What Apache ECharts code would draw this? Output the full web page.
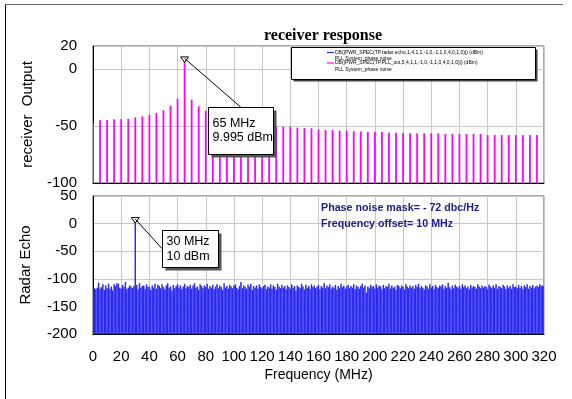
<!DOCTYPE html>
<html><head><meta charset="utf-8">
<script src="https://cdn.jsdelivr.net/npm/echarts@6/dist/echarts.min.js"></script>
<style>html,body{margin:0;padding:0;background:#fff}#c{width:572px;height:399px}</style>
</head><body><div id="c"></div><script>
// ---- data ----
const titleText = 'receiver response';
const topAxisName = 'receiver  Output';
const bottomAxisName = 'Radar Echo';
const xAxisName = 'Frequency (MHz)';
const xTicks = [0, 320, 20];          // min, max, step
const topYTicks = [-100, 20, 50];     // min, max, step (labels -100,-50,0,20)
const bottomYTicks = [-200, 50, 50];  // min, max, step

const pllName = 'DB(|PWR_SPEC(TP.PLL_out,5,4,1,1,-1,0,-1,1,0,4,0,1,0)|) (dBm)';
const echoName = 'DB(|PWR_SPEC(TP.radar echo,1,4,1,1,-1,0,-1,1,0,4,0,1,0)|) (dBm)';
const legendSub = 'PLL System_phase noise';

const pllFreq = [0,5,10,15,20,25,30,35,40,45,50,55,60,65,70,75,80,85,90,95,100,105,110,115,120,125,130,135,140,145,150,155,160,165,170,175,180,185,190,195,200,205,210,215,220,225,230,235,240,245,250,255,260,265,270,275,280,285,290,295,300,305,310,315];
const pllValues = [-47.7,-44.8,-44.8,-44.2,-44,-43.7,-42.5,-41.6,-40.4,-38.7,-36.3,-32.3,-26.4,9.995,-27,-32.8,-36.7,-39.5,-42,-44,-45.5,-46.5,-47.5,-48.5,-49,-49.5,-50.3,-50.7,-50.8,-51.5,-51.8,-52,-53,-53.6,-53.6,-54.2,-54.2,-54.8,-54.8,-55.3,-55.3,-55.3,-55.9,-55.9,-56.2,-56.5,-56.5,-56.5,-56.5,-56.5,-57.1,-57.1,-57.1,-57.1,-57.1,-57.1,-58,-58,-58,-58,-58,-58,-58,-58];

const echoStartMHz = 0, echoStepMHz = 1;
const echoValues = [
-118,-117,-119,-116,-107,-118,-115,-110,-120,-112,-117,-109,-118,-114,-121,-110,-113,-108,-109,-116,
-118,-111,-115,-106,-119,-116,-112,-114,-117,-113,10,-111,-119,-108,-116,-113,-112,-118,-110,-115,
-114,-120,-112,-116,-109,-118,-111,-113,-117,-110,-115,-119,-112,-108,-116,-114,-121,-111,-117,-113,
-110,-116,-112,-119,-114,-109,-117,-113,-115,-111,-118,-112,-108,-116,-114,-120,-110,-113,-117,-112,
-115,-109,-118,-113,-116,-111,-119,-114,-110,-117,-112,-115,-120,-108,-116,-113,-118,-111,-114,-117,
-112,-110,-116,-119,-113,-106,-117,-112,-115,-118,-111,-114,-109,-120,-113,-116,-112,-118,-110,-115,
-117,-113,-111,-119,-114,-116,-110,-118,-112,-115,-120,-109,-114,-117,-111,-116,-113,-119,-112,-115,
-118,-110,-116,-113,-121,-112,-115,-117,-109,-114,-119,-111,-116,-113,-118,-110,-115,-112,-117,-114,
-111,-119,-113,-116,-108,-117,-112,-115,-110,-118,-114,-116,-111,-120,-113,-117,-109,-115,-112,-118,
-114,-111,-117,-113,-116,-110,-119,-112,-115,-118,-113,-109,-116,-112,-125,-114,-117,-111,-115,-113,
-118,-110,-116,-112,-114,-119,-111,-117,-113,-115,-109,-118,-112,-116,-114,-120,-111,-113,-117,-112,
-115,-119,-110,-114,-117,-112,-116,-113,-118,-111,-115,-109,-117,-113,-116,-120,-112,-114,-118,-110,
-116,-113,-119,-111,-115,-117,-112,-114,-110,-118,-113,-116,-107,-115,-119,-112,-117,-111,-114,-116,
-113,-118,-110,-115,-112,-117,-114,-119,-111,-116,-113,-115,-118,-110,-114,-117,-112,-116,-113,-115,
-119,-111,-114,-117,-112,-116,-110,-118,-113,-115,-117,-111,-114,-119,-112,-116,-113,-118,-110,-115,
-114,-117,-111,-116,-113,-119,-112,-115,-110,-118,-113,-116,-111,-117,-114,-112,-115,-110,-113,-112,
-114];

const topMarker = [65, 9.995];
const topMarkerText = ['65 MHz', '9.995 dBm'];
const bottomMarker = [30, 10];
const bottomMarkerText = ['30 MHz', '10 dBm'];
const noteLines = ['Phase noise mask= - 72 dbc/Hz', 'Frequency offset= 10 MHz'];

// ---- build ----
const pllData = pllFreq.map((f, i) => [f, pllValues[i]]);
const echoData = echoValues.map((v, i) => [echoStartMHz + i * echoStepMHz, v]);

const FONT = 'Arial, "Liberation Sans", sans-serif';
const PINK = '#ff00ff', BLUE = '#2a2af2';

function barRenderer(width, color, base) {
  return function (params, api) {
    const top = api.coord([api.value(0), api.value(1)]);
    const bot = api.coord([api.value(0), base]);
    return { type: 'rect', shape: { x: top[0] - width / 2, y: top[1], width: width, height: bot[1] - top[1] },
      style: { fill: color } };
  };
}

const gridLine = { show: true, lineStyle: { color: '#c8c8c8', width: 1 } };
function xAxis(gridIndex, showLabels) {
  return { type: 'value', gridIndex, min: xTicks[0], max: xTicks[1], interval: xTicks[2],
    axisLine: { show: true, onZero: false, lineStyle: { color: '#000' } }, axisTick: { show: false },
    splitLine: gridLine,
    axisLabel: { show: showLabels, color: '#000', fontSize: 15, fontFamily: FONT, margin: 15 },
    name: showLabels ? xAxisName : '', nameLocation: 'middle', nameGap: 34,
    nameTextStyle: { color: '#000', fontSize: 14, fontFamily: FONT } };
}
function yAxis(gridIndex, t, name, gap) {
  return { type: 'value', gridIndex, min: t[0], max: t[1], interval: t[2],
    axisLine: { show: true, lineStyle: { color: '#000' } }, axisTick: { show: false },
    splitLine: gridLine,
    axisLabel: { color: '#000', fontSize: 15, fontFamily: FONT, margin: 16, showMinLabel: true, showMaxLabel: true },
    name, nameLocation: 'middle', nameGap: gap, nameRotate: 90,
    nameTextStyle: { color: '#000', fontSize: 15, fontFamily: FONT } };
}

const chart = echarts.init(document.getElementById('c'), null, { renderer: 'canvas' });
chart.setOption({
  animation: false,
  backgroundColor: '#fff',
  title: { text: titleText, left: 318, top: 23, textAlign: 'center',
    textStyle: { fontFamily: '"Liberation Serif", "Times New Roman", serif', fontWeight: 'bold', fontSize: 16, color: '#000' } },
  grid: [
    { left: 93, top: 46, right: 28, height: 137, show: true, borderColor: '#555', borderWidth: 1 },
    { left: 93, top: 196, right: 28, height: 138, show: true, borderColor: '#555', borderWidth: 1 }
  ],
  xAxis: [xAxis(0, false), xAxis(1, true)],
  yAxis: [yAxis(0, topYTicks, topAxisName, 58), yAxis(1, bottomYTicks, bottomAxisName, 60)],
  series: [
    { name: echoName, type: 'custom', xAxisIndex: 1, yAxisIndex: 1, clip: true, data: echoData,
      renderItem: barRenderer(1.5, BLUE, bottomYTicks[0]), itemStyle: { color: BLUE } },
    { name: pllName, type: 'custom', xAxisIndex: 0, yAxisIndex: 0, clip: true, data: pllData,
      renderItem: barRenderer(1.8, PINK, topYTicks[0]), itemStyle: { color: PINK } }
  ]
});

function callout(pt, boxDx, boxDy, w, h, lineEnd, lines, fs, lh) {
  const [x, y] = pt;
  const els = [];
  els.push({ type: 'polygon', shape: { points: [[x - 4, y - 0.5], [x + 4, y - 0.5], [x, y + 5]] },
    style: { fill: '#fff', stroke: '#000', lineWidth: 1 }, z: 10 });
  els.push({ type: 'line', shape: { x1: x, y1: y + 1, x2: x + lineEnd[0], y2: y + lineEnd[1] },
    style: { stroke: '#000', lineWidth: 1 }, z: 10 });
  const bx = Math.round(x + boxDx) + 0.5, by = Math.round(y + boxDy) + 0.5;
  els.push({ type: 'rect', shape: { x: bx + 3, y: by + 3, width: w, height: h }, style: { fill: '#555' }, z: 10 });
  els.push({ type: 'rect', shape: { x: bx, y: by, width: w, height: h }, style: { fill: '#fff', stroke: '#000', lineWidth: 1 }, z: 11 });
  lines.forEach((t, i) => {
    els.push({ type: 'text', style: { text: t, x: bx + 4, y: by + h / 2 + (i - (lines.length - 1) / 2) * lh,
      fill: '#000', font: fs + 'px ' + FONT, textVerticalAlign: 'middle' }, z: 12 });
  });
  return els;
}

const p1 = chart.convertToPixel({ gridIndex: 0 }, topMarker);
const p2 = chart.convertToPixel({ gridIndex: 1 }, bottomMarker);

const legendEls = [];
const lx = 291.5, ly = 47.5, lw = 244, lh = 32;
legendEls.push({ type: 'rect', shape: { x: lx + 2, y: ly + 2, width: lw, height: lh }, style: { fill: '#444' }, z: 10 });
legendEls.push({ type: 'rect', shape: { x: lx, y: ly, width: lw, height: lh }, style: { fill: '#fff', stroke: '#000', lineWidth: 1 }, z: 11 });
[[echoName, BLUE, 52.5], [pllName, PINK, 63]].forEach(([name, col, yy]) => {
  legendEls.push({ type: 'line', shape: { x1: 327, y1: yy, x2: 334, y2: yy }, style: { stroke: col, lineWidth: 1.2 }, z: 12 });
  legendEls.push({ type: 'text', style: { text: name, x: 335, y: yy, fill: '#000', font: '5px ' + FONT, textVerticalAlign: 'middle' }, z: 12 });
  legendEls.push({ type: 'text', style: { text: legendSub, x: 335, y: yy + 6.5, fill: '#000', font: '5px ' + FONT, textVerticalAlign: 'middle' }, z: 12 });
});

const noteEls = noteLines.map((t, i) => ({ type: 'text',
  style: { text: t, x: 321, y: 208 + i * 16, fill: '#20208c', font: 'bold 10.7px ' + FONT, textVerticalAlign: 'middle' }, z: 12 }));

chart.setOption({
  graphic: [
    { type: 'line', shape: { x1: 5.5, y1: 4, x2: 5.5, y2: 399 }, style: { stroke: '#000', lineWidth: 1 } },
    { type: 'line', shape: { x1: 5, y1: 4.5, x2: 563, y2: 4.5 }, style: { stroke: '#666', lineWidth: 1 } },
    ...legendEls,
    ...noteEls,
    ...callout(p1, 23.4, 49.6, 65, 47, [56, 49.6], topMarkerText, 12.5, 14),
    ...callout(p2, 26.7, 11.5, 56, 37, [26.7, 30.5], bottomMarkerText, 12.5, 15)
  ]
});
</script></body></html>
